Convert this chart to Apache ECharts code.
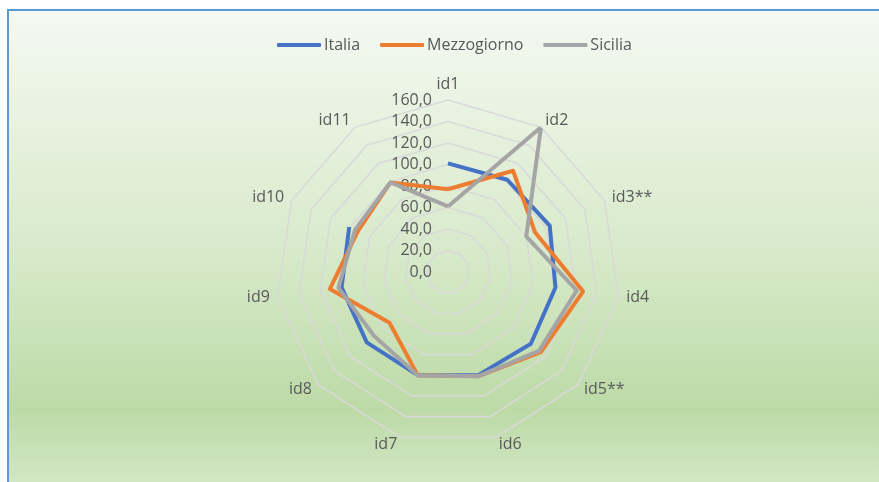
<!DOCTYPE html>
<html>
<head>
<meta charset="utf-8">
<script src="https://cdn.jsdelivr.net/npm/echarts@6/dist/echarts.min.js"></script>
<style>
html,body{margin:0;padding:0;background:#ffffff;}
#chart{width:879px;height:482px;}
</style>
</head>
<body>
<div id="chart"></div>
<script>
const categories = ['id1','id2','id3**','id4','id5**','id6','id7','id8','id9','id10','id11'];
const italia      = [101,102,104,101,102,100,100,100,100,101,null];
const mezzogiorno = [77,112,89,127,114,101,100,72,111,92,99];
const sicilia     = [61,160,80,121,112,101,100,91,103,95,99];
const radialMin = 0;
const radialMax = 160;
const radialStep = 20;

const FONT = "'Open Sans', 'Noto Sans', sans-serif";
const TXT = '#595959';
const CX = 448, CY = 272, R = 172;

function toPolar(arr) {
  const n = arr.length;
  const pts = arr.map((v, i) => [v == null ? '-' : v, i]);
  if (arr[0] != null && arr[n - 1] != null) pts.push([arr[0], n]);
  return pts;
}

// radar places indicators counter-clockwise; reverse to get a clockwise order
const radarOrder = [categories[0]].concat(categories.slice(1).reverse());
const indicators = radarOrder.map((name, i) => {
  const o = { name: name, min: radialMin, max: radialMax };
  if (i === 0) {
    o.axisLabel = {
      show: true, color: TXT, fontSize: 16, fontFamily: FONT, margin: 16,
      formatter: v => v.toFixed(1).replace('.', ',')
    };
  }
  return o;
});

const chart = echarts.init(document.getElementById('chart'), null, { renderer: 'canvas' });
const option = {
  animation: false,
  textStyle: { fontFamily: FONT },
  graphic: {
    elements: [{
      type: 'rect', z: -10, silent: true,
      shape: { x: 8, y: 10, width: 880, height: 475 },
      style: {
        fill: new echarts.graphic.LinearGradient(0, 0, 0, 1, [
          { offset: 0, color: '#f5f9f2' },
          { offset: 0.5, color: '#d8eacb' },
          { offset: 0.84, color: '#bcdaa6' },
          { offset: 1, color: '#d3e7c5' }
        ]),
        stroke: '#5b9bd5', lineWidth: 2
      }
    }]
  },
  legend: {
    left: 272, top: 32,
    itemWidth: 44, itemHeight: 4, itemGap: 20,
    icon: 'roundRect',
    textStyle: { color: TXT, fontSize: 16, fontFamily: FONT, padding: [0, 0, 0, -2] },
    data: ['Italia', 'Mezzogiorno', 'Sicilia']
  },
  radar: {
    center: [CX, CY], radius: R, shape: 'polygon', splitNumber: (radialMax - radialMin) / radialStep,
    startAngle: 90, nameGap: 8,
    indicator: indicators,
    axisName: { color: TXT, fontSize: 16, fontFamily: FONT },
    axisLine: { show: false },
    axisTick: { show: false },
    splitArea: { show: false },
    splitLine: { lineStyle: { color: '#d9d9d9', width: 1.5 } }
  },
  polar: { center: [CX, CY], radius: R },
  angleAxis: {
    type: 'value', min: 0, max: categories.length, startAngle: 90, clockwise: true,
    axisLine: { show: false }, axisTick: { show: false }, axisLabel: { show: false }, splitLine: { show: false }
  },
  radiusAxis: {
    type: 'value', min: radialMin, max: radialMax,
    axisLine: { show: false }, axisTick: { show: false }, axisLabel: { show: false }, splitLine: { show: false }
  },
  series: [
    { name: 'Italia', type: 'line', coordinateSystem: 'polar', data: toPolar(italia),
      showSymbol: false, connectNulls: false, color: '#4472c4', lineStyle: { width: 4, join: 'round' } },
    { name: 'Mezzogiorno', type: 'line', coordinateSystem: 'polar', data: toPolar(mezzogiorno),
      showSymbol: false, color: '#ed7d31', lineStyle: { width: 4, join: 'round' } },
    { name: 'Sicilia', type: 'line', coordinateSystem: 'polar', data: toPolar(sicilia),
      showSymbol: false, color: '#a5a5a5', lineStyle: { width: 4, join: 'round' } }
  ]
};
chart.setOption(option);
</script>
</body>
</html>
